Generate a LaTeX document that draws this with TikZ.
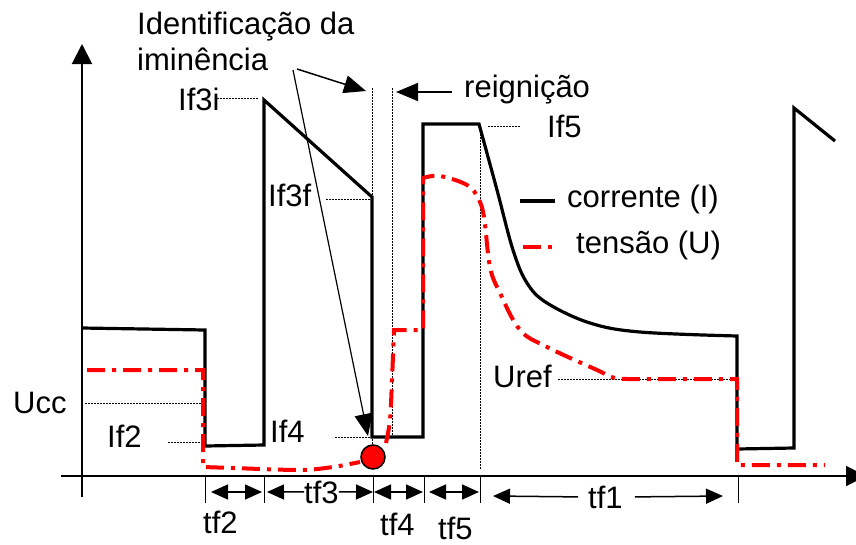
\documentclass[tikz,border=0pt]{standalone}
\usepackage{fontspec}
\setmainfont{Liberation Sans}
\usetikzlibrary{calc}
\usetikzlibrary{arrows.meta}

\begin{document}
\begin{tikzpicture}[
    x=1pt, y=-1pt,                      % pixel grid, y grows downwards
    font=\fontsize{31}{34}\selectfont,  % one text size for all labels
    ]
% -------------------------------------------------
\tikzset{
  lbl/.style={inner sep=0pt, anchor=base west},
  axis/.style={draw, line width=2pt, -{Triangle[length=20pt,width=20pt]}},
  curr/.style={draw, line width=3.2pt, line join=miter},
  volt/.style={draw, red, line width=4pt, dash pattern=on 18pt off 7pt on 4pt off 7pt},
  guide/.style={draw, line width=1pt, dash pattern=on 1.5pt off 1.5pt},
  tick/.style={draw, line width=1pt},
  dim/.style={draw, line width=1.5pt, {Triangle[length=17pt,width=15pt]}-{Triangle[length=17pt,width=15pt]}},
  dimr/.style={draw, line width=1.5pt, -{Triangle[length=17pt,width=15pt]}},
  pointer/.style={draw, line width=1.5pt, -{Triangle[length=22pt,width=18pt]}},
  spark/.style={circle, draw=black, fill=red, line width=1.5pt, minimum size=24pt, inner sep=0pt}
}
\useasboundingbox (0,0) rectangle (856,544);
% -------------------------------------------------
% Axes and ticks

\draw[axis] (82,497) -- (82,44);
\draw[axis] (61,476) -- (866,476);
\foreach \x in {205,264,373,424,480,738}
  \draw[tick] (\x,477) -- (\x,503);

% -------------------------------------------------
% Guide lines

\draw[guide] (217,98) -- (258,98);
\draw[guide] (326,199) -- (370,199);
\draw[guide] (372,88) -- (372,446);
\draw[guide] (392,88) -- (392,437);
\draw[guide] (480,125) -- (480,470);
\draw[guide] (488,126) -- (520,126);
\draw[guide] (85,403) -- (203,403);
\draw[guide] (168,442) -- (203,442);
\draw[guide] (335,437) -- (370,437);
\draw[guide] (558,379) -- (737,379);

% -------------------------------------------------
% Current and voltage

\draw[curr] (82,328) -- (205,330) -- (205,446) -- (264,445) -- (264,100)
  -- (372,197) -- (372,437) -- (423,437) -- (423,124)
  -- plot[smooth, tension=0.6] coordinates {(479,124) (497,190) (513,250) (527,283)
     (547,303) (590,323) (640,332) (737,336)}
  -- (737,449) -- (794,448) -- (794,108) -- (835,141);

\draw[volt] (87,370) -- (203,370) -- (203,467)
  -- plot[smooth] coordinates {(203,467) (233,468) (300,470) (333,467) (360,462)};
\draw[volt] plot[smooth] coordinates {(386,443) (390,420) (392,380) (394,330)}
  -- (423,330) -- (423,178)
  -- plot[smooth, tension=0.6] coordinates {(423,178) (440,176) (467,185) (478,198)
     (484,217) (490,267) (500,293) (520,330) (547,347) (597,370) (615,378) (640,379)}
  -- (737,379) -- (737,465) -- (825,465);

\node[spark] (dot) at (373,457) {};

% -------------------------------------------------
% Labels

\node[lbl] (idl1) at (137,34) {Identificação da};
\node[lbl] (idl2) at (137,70) {iminência};
\node[lbl] (reign) at (464,97) {reignição};
\node[lbl] (If3i) at (178,110) {If3i};
\node[lbl] (If3f) at (268,206) {If3f};
\node[lbl] (If5) at (547,137) {If5};
\node[lbl] (Ucc) at (13,413) {Ucc};
\node[lbl] (If2) at (107,447) {If2};
\node[lbl] (If4) at (270,442) {If4};
\node[lbl] (Uref) at (493,387) {Uref};
\node[lbl] (corr) at (567,207) {corrente (I)};
\node[lbl] (tens) at (576,253) {tensão (U)};
\node[lbl] (tf2) at (203,533) {tf2};
\node[lbl] (tf3) at (304,503) {tf3};
\node[lbl] (tf4) at (380,535) {tf4};
\node[lbl] (tf5) at (438,539) {tf5};
\node[lbl] (tf1) at (588,508) {tf1};

\draw[curr] (520,201) -- (555,201);
\draw[volt] (523,247) -- (555,247);

% -------------------------------------------------
% Pointers and time spans

\coordinate (idA) at (297,69);
\coordinate (idB) at (293,70);
\coordinate (gapL) at (366,91);
\coordinate (gapR) at (396,92);
\coordinate (reA) at (452,92);
\coordinate (If4pt) at (368,436);

\draw[pointer] (idA) -- (gapL);
\draw[pointer, line width=1.2pt] (idB) -- (If4pt);
\draw[pointer] (reA) -- (gapR);

\draw[dim] (211,492) -- (262,492);
\draw[dimr] (tf3.west) -- (267,492);
\draw[dimr] (tf3.east) -- (373,492);
\draw[dim] (374,492) -- (423,492);
\draw[dim] (429,492) -- (479,492);
\draw[dimr] ($(tf1.west)+(-10,0)$) -- (493,496);
\draw[dimr] ($(tf1.east)+(12,0)$) -- (723,496);

\end{tikzpicture}
\end{document}
